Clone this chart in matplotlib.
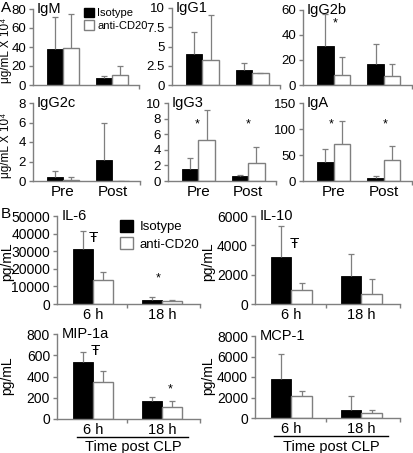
import matplotlib
matplotlib.use("Agg")
import matplotlib.pyplot as plt
from matplotlib.patches import Patch

plt.rcParams['font.family'] = ['Liberation Sans', 'DejaVu Sans']

W, H = 413, 453

# ---- data ----
groups_A = ["Pre", "Post"]
groups_B = ["6 h", "18 h"]

igm_iso, igm_iso_err = [38, 7.5], [34, 2]
igm_anti, igm_anti_err = [39, 10.5], [36, 9.5]
igg1_iso, igg1_iso_err = [4.0, 1.9], [2.9, 1.0]
igg1_anti, igg1_anti_err = [3.3, 1.5], [5.8, 0]
igg2b_iso, igg2b_iso_err = [31, 17], [26, 16]
igg2b_anti, igg2b_anti_err = [8, 7.5], [14, 9.5]
igg2c_iso, igg2c_iso_err = [0.45, 2.2], [0.6, 3.7]
igg2c_anti, igg2c_anti_err = [0.1, 0.05], [0.3, 0]
igg3_iso, igg3_iso_err = [1.6, 0.7], [1.4, 0.1]
igg3_anti, igg3_anti_err = [5.2, 2.3], [3.9, 2.1]
iga_iso, iga_iso_err = [36, 5], [26, 5]
iga_anti, iga_anti_err = [72, 41], [43, 27]

il6_iso, il6_iso_err = [31000, 2500], [10500, 1500]
il6_anti, il6_anti_err = [13500, 1500], [4500, 700]
il10_iso, il10_iso_err = [3200, 1900], [2100, 1500]
il10_anti, il10_anti_err = [950, 700], [500, 1000]
mip_iso, mip_iso_err = [535, 170], [100, 35]
mip_anti, mip_anti_err = [350, 115], [105, 55]
mcp_iso, mcp_iso_err = [3800, 800], [2450, 1350]
mcp_anti, mcp_anti_err = [2150, 450], [500, 300]

# significance marks: (group index, y value, symbol, x shift)
igg2b_marks = [(0, 49, '*', 0.04)]
igg3_marks = [(0, 7.2, '*', -0.03), (1, 7.2, '*', 0.0)]
iga_marks = [(0, 108, '*', -0.05), (1, 108, '*', 0.03)]
il6_marks = [(0, 37500, 'Ŧ', 0.0), (1, 14800, '*', -0.06)]
il10_marks = [(0, 4100, 'Ŧ', 0.04)]
mip_marks = [(0, 640, 'Ŧ', 0.03), (1, 282, '*', 0.12)]

GREY = '#7f7f7f'
fig = plt.figure(figsize=(W / 100, H / 100), dpi=100)


def px_axes(x0, x1, y0, y1):
    return fig.add_axes([x0 / W, 1 - y1 / H, (x1 - x0) / W, (y1 - y0) / H])


def panel(ax, iso, iso_err, anti, anti_err, ylim, yticks, ylabels, title,
          width, xlim, xt_labels=None, marks=(), mid_tick=False, fs_x=11, fs_y=10):
    pos = list(range(len(iso)))
    xi = [p - width / 2 for p in pos]
    xa = [p + width / 2 for p in pos]
    ax.bar(xi, iso, width, color='black', edgecolor='black', linewidth=0.6, zorder=2)
    ax.bar(xa, anti, width, color='white', edgecolor=GREY, linewidth=1.0, zorder=2)
    for xs, v, e in ((xi, iso, iso_err), (xa, anti, anti_err)):
        tops = [a + b for a, b in zip(v, e)]
        ax.vlines(xs, v, tops, color=GREY, lw=0.9, zorder=3)
        ax.plot(xs, tops, ls='none', marker='_', ms=4, mew=0.9, color=GREY, zorder=3)
    for g, y, s, dx in marks:
        ax.text(pos[g] + dx, y, s, ha='center', va='center', fontsize=9 if s == '*' else 11)
    ax.set_ylim(*ylim)
    ax.set_xlim(*xlim)
    ax.set_yticks(yticks)
    ax.set_yticklabels(ylabels, fontsize=fs_y)
    ticks = [0.5, xlim[1]] if mid_tick else [xlim[1]]
    ax.set_xticks(ticks)
    ax.set_xticklabels([''] * len(ticks))
    if xt_labels:
        for p, lab in zip(pos, xt_labels):
            ax.text(p, -0.05, lab, transform=ax.get_xaxis_transform(),
                    ha='center', va='top', fontsize=fs_x)
    for s in ('top', 'right'):
        ax.spines[s].set_visible(False)
    for s in ('left', 'bottom'):
        ax.spines[s].set_color(GREY)
        ax.spines[s].set_linewidth(1.0)
    ax.tick_params(axis='both', colors=GREY, labelcolor='black', length=3, width=1.0, pad=2)
    ax.text(0.03, 1.0, title, transform=ax.transAxes, ha='left', va='center', fontsize=10.5)


xlA = (-0.61, 1.56)
wA = 0.33
xlB = (-0.52, 1.55)
wB = 0.29
fA = 9.5

ax = px_axes(33, 139, 9, 85)
panel(ax, igm_iso, igm_iso_err, igm_anti, igm_anti_err, (0, 80), [0, 20, 40, 60, 80],
      ['0', '20', '40', '60', '80'], 'IgM', wA, xlA, fs_y=fA)
ax.legend(handles=[Patch(facecolor='black', edgecolor='black', label='Isotype'),
                   Patch(facecolor='white', edgecolor=GREY, label='anti-CD20')],
          loc='upper left', bbox_to_anchor=(0.47, 1.03), frameon=False, fontsize=8,
          handlelength=0.9, handleheight=0.9, handletextpad=0.3, labelspacing=0.2,
          borderpad=0.1, borderaxespad=0.0)

ax = px_axes(172, 280, 8, 85)
panel(ax, igg1_iso, igg1_iso_err, igg1_anti, igg1_anti_err, (0, 10), [0, 2.5, 5, 7.5, 10],
      ['0', '2.5', '5', '7.5', '10'], 'IgG1', wA, xlA, fs_y=fA)

ax = px_axes(303, 412, 10, 85)
panel(ax, igg2b_iso, igg2b_iso_err, igg2b_anti, igg2b_anti_err, (0, 60), [0, 20, 40, 60],
      ['0', '20', '40', '60'], 'IgG2b', wA, xlA, marks=igg2b_marks, fs_y=fA)

ax = px_axes(33, 140, 103, 181)
panel(ax, igg2c_iso, igg2c_iso_err, igg2c_anti, igg2c_anti_err, (0, 8), [0, 2, 4, 6, 8],
      ['0', '2', '4', '6', '8'], 'IgG2c', wA, xlA, xt_labels=groups_A, fs_y=fA)

ax = px_axes(168, 276, 103, 181)
panel(ax, igg3_iso, igg3_iso_err, igg3_anti, igg3_anti_err, (0, 10), [0, 2, 4, 6, 8, 10],
      ['0', '2', '4', '6', '8', '10'], 'IgG3', wA, xlA, xt_labels=groups_A,
      marks=igg3_marks, fs_y=fA)

ax = px_axes(303, 412, 103, 181)
panel(ax, iga_iso, iga_iso_err, iga_anti, iga_anti_err, (0, 150), [0, 50, 100, 150],
      ['0', '50', '100', '150'], 'IgA', wA, xlA, xt_labels=groups_A,
      marks=iga_marks, fs_y=fA)

ax = px_axes(57, 200, 216, 304)
panel(ax, il6_iso, il6_iso_err, il6_anti, il6_anti_err, (0, 50000),
      [0, 10000, 20000, 30000, 40000, 50000],
      ['0', '10000', '20000', '30000', '40000', '50000'], 'IL-6', wB, xlB,
      xt_labels=groups_B, marks=il6_marks, mid_tick=True, fs_x=10.5)
ax.legend(handles=[Patch(facecolor='black', edgecolor='black', label='Isotype'),
                   Patch(facecolor='white', edgecolor=GREY, label='anti-CD20')],
          loc='upper left', bbox_to_anchor=(0.43, 0.97), frameon=False, fontsize=9.5,
          handlelength=1.0, handleheight=1.0, handletextpad=0.5, labelspacing=0.3,
          borderpad=0.1, borderaxespad=0.0)

ax = px_axes(255, 400, 216, 304)
panel(ax, il10_iso, il10_iso_err, il10_anti, il10_anti_err, (0, 6000), [0, 2000, 4000, 6000],
      ['0', '2000', '4000', '6000'], 'IL-10', wB, xlB,
      xt_labels=groups_B, marks=il10_marks, mid_tick=True, fs_x=10.5)

ax = px_axes(57, 200, 334, 419)
panel(ax, mip_iso, mip_iso_err, mip_anti, mip_anti_err, (0, 800), [0, 200, 400, 600, 800],
      ['0', '200', '400', '600', '800'], 'MIP-1a', wB, xlB,
      xt_labels=groups_B, marks=mip_marks, mid_tick=True, fs_x=10.5)
ax.plot([-0.23, 1.38], [-0.21, -0.21], transform=ax.get_xaxis_transform(),
        color='black', lw=1.0, clip_on=False)
ax.text(0.58, -0.33, 'Time post CLP', transform=ax.get_xaxis_transform(),
        ha='center', va='center', fontsize=10.5)

ax = px_axes(255, 400, 336, 418)
panel(ax, mcp_iso, mcp_iso_err, mcp_anti, mcp_anti_err, (0, 8000), [0, 2000, 4000, 6000, 8000],
      ['0', '2000', '4000', '6000', '8000'], 'MCP-1', wB, xlB,
      xt_labels=groups_B, mid_tick=True, fs_x=10.5)
ax.plot([-0.25, 1.38], [-0.22, -0.22], transform=ax.get_xaxis_transform(),
        color='black', lw=1.0, clip_on=False)
ax.text(0.57, -0.35, 'Time post CLP', transform=ax.get_xaxis_transform(),
        ha='center', va='center', fontsize=10.5)

# panel letters and y labels
fig.text(1 / W, 1 - 8 / H, 'A', fontsize=11, ha='left', va='center')
fig.text(1 / W, 1 - 214 / H, 'B', fontsize=11, ha='left', va='center')
for yc in (50, 145):
    fig.text(6 / W, 1 - yc / H, 'μg/mL X 10⁴', rotation=90, fontsize=8.5,
             ha='center', va='center')
for xc, yc in ((7, 262), (208, 262), (7, 376), (208, 376)):
    fig.text(xc / W, 1 - yc / H, 'pg/mL', rotation=90, fontsize=10,
             ha='center', va='center')

fig.savefig('out.png', dpi=100)
